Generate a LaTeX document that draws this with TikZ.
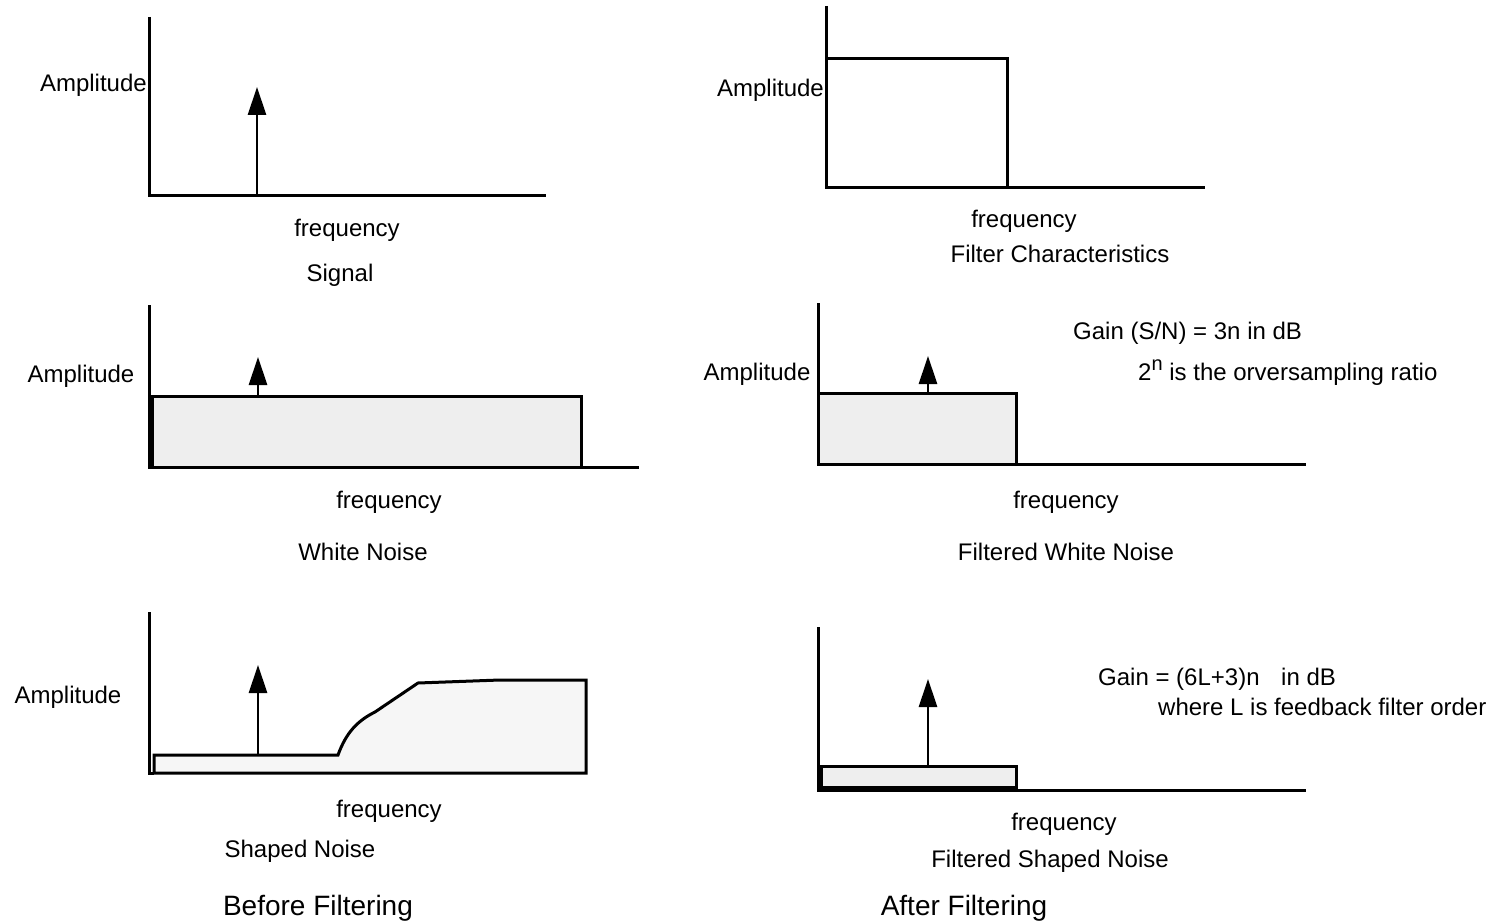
\documentclass[tikz,border=0pt]{standalone}
\usepackage{fontspec}
\setmainfont{Liberation Sans}
\usetikzlibrary{arrows.meta}
\begin{document}
\begin{tikzpicture}[x=1pt,y=-1pt,
  axis/.style={line width=3pt, line join=miter},
  band/.style={line width=3pt, line join=miter, draw=black},
  spike/.style={line width=2.8pt, -{Triangle[length=28pt,width=18pt]}},
  lbl/.style={font=\fontsize{24}{28}\selectfont, inner sep=0pt},
  ttl/.style={font=\fontsize{28}{32}\selectfont, inner sep=0pt}]
\definecolor{bandfill}{HTML}{EEEEEE}
\definecolor{shapefill}{HTML}{F6F6F6}
\useasboundingbox (0,0) rectangle (1499,923);
\fill[white] (0,0) rectangle (1499,923);

% ---------- Signal ----------
\draw[axis] (149,17) -- (149,195) -- (546,195);
\coordinate (sA0) at (257,195);
\coordinate (sA1) at (257,87);
\draw[spike] (sA0) -- (sA1);
\node[lbl, anchor=east] (ampA) at (147,85) {Amplitude};
\node[lbl] (freqA) at (347,230) {frequency};
\node[lbl] (sig) at (340,275) {Signal};

% ---------- Filter characteristics ----------
\draw[axis] (826,6) -- (826,187) -- (1205,187);
\draw[axis] (826,59) -- (1007,59) -- (1007,187);
\node[lbl, anchor=east] (ampB) at (824,90) {Amplitude};
\node[lbl] (freqB) at (1024,221) {frequency};
\node[lbl] (filt) at (1060,254) {Filter Characteristics};

% ---------- White noise ----------
\draw[axis] (149,305) -- (149,467) -- (639,467);
\draw[band, fill=bandfill] (152,467) rectangle (581,396);
\coordinate (sC0) at (258,396);
\coordinate (sC1) at (258,357);
\draw[spike] (sC0) -- (sC1);
\node[lbl] (ampC) at (81,376) {Amplitude};
\node[lbl] (freqC) at (389,502) {frequency};
\node[lbl] (wn) at (363,552) {White Noise};

% ---------- Filtered white noise ----------
\draw[axis] (818,303) -- (818,464) -- (1306,464);
\draw[band, fill=bandfill] (818,464) rectangle (1016,393);
\coordinate (sD0) at (928,393);
\coordinate (sD1) at (928,356);
\draw[spike] (sD0) -- (sD1);
\node[lbl] (ampD) at (757,374) {Amplitude};
\node[lbl, anchor=west] (gainD) at (1073,333) {Gain (S/N) = 3n in dB};
\node[lbl, anchor=west] (ratio) at (1138,373)
  {2\raisebox{0.42em}{\fontsize{20}{20}\selectfont n} is the orversampling ratio};
\node[lbl] (freqD) at (1066,502) {frequency};
\node[lbl] (fwn) at (1066,552) {Filtered White Noise};

% ---------- Shaped noise ----------
\draw[axis] (149,612) -- (149,773) -- (154,773);
\draw[band, fill=shapefill]
  (154,773) -- (154,755) -- (338,755)
  .. controls (346,733) and (357,721) .. (375,712)
  -- (418,683) -- (500,680) -- (586,680) -- (586,773) -- cycle;
\coordinate (sE0) at (258,755);
\coordinate (sE1) at (258,665);
\draw[spike] (sE0) -- (sE1);
\node[lbl] (ampE) at (68,697) {Amplitude};
\node[lbl] (freqE) at (389,811) {frequency};
\node[lbl] (shn) at (300,851) {Shaped Noise};
\node[ttl] (before) at (318,908) {Before Filtering};

% ---------- Filtered shaped noise ----------
\draw[axis] (818,627) -- (818,790) -- (1306,790);
\draw[band, fill=bandfill] (821,787) rectangle (1016,766);
\coordinate (sF0) at (928,766);
\coordinate (sF1) at (928,679);
\draw[spike] (sF0) -- (sF1);
\node[lbl, anchor=west] (gainF) at (1098,679) {Gain = (6L+3)n\hspace{0.9em}in dB};
\node[lbl, anchor=west] (order) at (1158,707) {where L is feedback filter order};
\node[lbl] (freqF) at (1064,824) {frequency};
\node[lbl] (fsn) at (1050,861) {Filtered Shaped Noise};
\node[ttl] (after) at (964,908) {After Filtering};
\end{tikzpicture}
\end{document}
